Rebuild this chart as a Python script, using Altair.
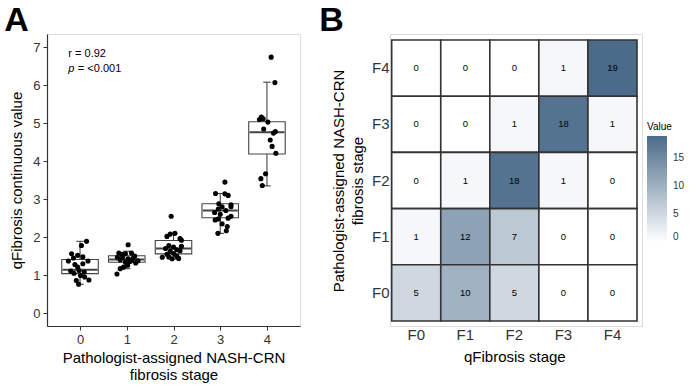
import altair as alt
import pandas as pd

# ---------------- Panel A data ----------------
stage_labels = [0, 1, 2, 3, 4]

s0_off = [0.14, 0.03, -0.18, -0.05, 0.06, -0.25, -0.14, 0.06, 0.17, -0.11, -0.05, -0.02, -0.20, 0.09, -0.13, 0.01, 0.10, 0.19, -0.08, -0.03]
s0_val = [1.89, 1.78, 1.56, 1.52, 1.48, 1.37, 1.45, 1.30, 1.37, 1.28, 1.21, 1.12, 1.11, 1.08, 1.05, 0.99, 0.95, 0.87, 0.86, 0.76]
s1_off = [0.03, -0.17, -0.10, -0.03, 0.10, 0.17, -0.20, -0.09, 0.03, 0.14, 0.24, -0.14, -0.03, 0.07, 0.19, -0.07, 0.02, -0.14, -0.21, 0.11]
s1_val = [1.80, 1.58, 1.55, 1.56, 1.58, 1.50, 1.47, 1.46, 1.43, 1.45, 1.38, 1.40, 1.34, 1.36, 1.32, 1.21, 1.26, 1.17, 1.03, 1.40]
s2_off = [-0.05, 0.03, -0.07, -0.14, 0.14, 0.17, -0.10, 0.00, 0.17, -0.17, 0.07, -0.07, 0.14, -0.14, 0.00, -0.24, -0.10, 0.07, -0.03, 0.11]
s2_val = [2.55, 2.10, 2.08, 2.02, 1.96, 1.92, 1.78, 1.74, 1.76, 1.70, 1.67, 1.63, 1.64, 1.55, 1.57, 1.47, 1.48, 1.50, 1.43, 1.44]
s3_off = [0.10, -0.10, 0.10, 0.17, -0.03, 0.23, 0.04, 0.23, -0.04, 0.12, -0.12, 0.00, 0.23, 0.17, -0.04, -0.11, 0.15, 0.04, 0.13, -0.05]
s3_val = [3.45, 3.15, 3.14, 3.10, 2.88, 2.85, 2.80, 2.80, 2.74, 2.70, 2.65, 2.60, 2.55, 2.50, 2.48, 2.45, 2.28, 2.35, 2.17, 2.10]
s4_off = [0.09, 0.17, -0.12, -0.08, 0.02, -0.07, 0.18, 0.14, 0.07, 0.11, 0.19, -0.03, -0.13, -0.10, -0.16]
s4_val = [6.74, 6.07, 5.16, 5.12, 5.03, 4.85, 4.78, 4.74, 4.56, 4.39, 4.21, 3.67, 3.54, 3.36, 5.10]

box_q1 = [1.04, 1.34, 1.56, 2.51, 4.19]
box_med = [1.14, 1.41, 1.70, 2.70, 4.76]
box_q3 = [1.41, 1.51, 1.91, 2.88, 5.04]
box_wlo = [0.76, 1.17, 1.42, 2.10, 3.35]
box_whi = [1.89, 1.63, 2.10, 3.15, 6.08]

annot_r = "r = 0.92"
annot_p = "= <0.001"

# ---------------- Panel B data ----------------
q_stages = ["F0", "F1", "F2", "F3", "F4"]
path_stages = ["F4", "F3", "F2", "F1", "F0"]
counts = {
    "F4": [0, 0, 0, 1, 19],
    "F3": [0, 0, 1, 18, 1],
    "F2": [0, 1, 18, 1, 0],
    "F1": [1, 12, 7, 0, 0],
    "F0": [5, 10, 5, 0, 0],
}
panel_labels = ["A", "B"]

FONT = "Liberation Sans"

# ---------------- build tables ----------------
rows = []
for st, offs, vals in zip(stage_labels, [s0_off, s1_off, s2_off, s3_off, s4_off],
                          [s0_val, s1_val, s2_val, s3_val, s4_val]):
    for o, v in zip(offs, vals):
        rows.append({"stage": st, "jx": st + o, "value": v})
pts = pd.DataFrame(rows)
boxes = pd.DataFrame({"stage": stage_labels, "q1": box_q1, "med": box_med, "q3": box_q3,
                      "wlo": box_wlo, "whi": box_whi})

W_L = 253
H = 292
unit = W_L / 5.2
BOXW = 0.75 * unit

xs = alt.Scale(domain=[-0.6, 4.6], nice=False, zero=False)
ys = alt.Scale(domain=[-0.34, 7.35], nice=False, zero=False)

x_axis = alt.Axis(values=stage_labels, title=["Pathologist-assigned NASH-CRN", "fibrosis stage"],
                  labelFontSize=13, titleFontSize=15, titleFontWeight="normal", labelColor="#333333",
                  titleColor="#000000", domainColor="#333333", tickColor="#333333", tickSize=4,
                  labelPadding=3, titlePadding=4, grid=False, labelFont=FONT, titleFont=FONT,
                  domainWidth=1.2, tickWidth=1)
y_axis = alt.Axis(values=list(range(8)), title="qFibrosis continuous value", labelFontSize=13,
                  titleFontSize=15, titleFontWeight="normal", labelColor="#333333", titleColor="#000000",
                  domainColor="#333333", tickColor="#333333", tickSize=4, labelPadding=3, titlePadding=8,
                  grid=False, labelFont=FONT, titleFont=FONT, domainWidth=1.2, tickWidth=1)

base_b = alt.Chart(boxes)
whisk_up = base_b.mark_rule(color="#444444", strokeWidth=1.1).encode(
    x=alt.X("stage:Q", scale=xs, axis=x_axis), y=alt.Y("q3:Q", scale=ys, axis=y_axis), y2="whi:Q")
whisk_dn = base_b.mark_rule(color="#444444", strokeWidth=1.1).encode(
    x=alt.X("stage:Q", scale=xs), y=alt.Y("wlo:Q", scale=ys), y2="q1:Q")
cap_hi = base_b.transform_calculate(a="datum.stage - 0.08", b="datum.stage + 0.08").mark_rule(
    color="#444444", strokeWidth=1.1).encode(x=alt.X("a:Q", scale=xs), x2="b:Q", y=alt.Y("whi:Q", scale=ys))
cap_lo = base_b.transform_calculate(a="datum.stage - 0.08", b="datum.stage + 0.08").mark_rule(
    color="#444444", strokeWidth=1.1).encode(x=alt.X("a:Q", scale=xs), x2="b:Q", y=alt.Y("wlo:Q", scale=ys))
box = base_b.mark_bar(size=BOXW, fill="white", stroke="#444444", strokeWidth=1.1, opacity=1).encode(
    x=alt.X("stage:Q", scale=xs), y=alt.Y("q1:Q", scale=ys), y2="q3:Q")
med = base_b.transform_calculate(a="datum.stage - 0.375", b="datum.stage + 0.375").mark_rule(
    color="#444444", strokeWidth=2).encode(x=alt.X("a:Q", scale=xs), x2="b:Q", y=alt.Y("med:Q", scale=ys))
dots = alt.Chart(pts).mark_circle(size=26, color="black", opacity=1).encode(
    x=alt.X("jx:Q", scale=xs), y=alt.Y("value:Q", scale=ys))

ann = pd.DataFrame({"x": [-0.25], "y1": [6.83], "y2": [6.44], "r": [annot_r], "p": ["p"], "pv": [annot_p]})
ann_r = alt.Chart(ann).mark_text(align="left", baseline="middle", fontSize=11, font=FONT, color="black").encode(
    x=alt.X("x:Q", scale=xs), y=alt.Y("y1:Q", scale=ys), text="r:N")
ann_p = alt.Chart(ann).mark_text(align="left", baseline="middle", fontSize=11, font=FONT, fontStyle="italic",
                                 color="black").encode(
    x=alt.X("x:Q", scale=xs), y=alt.Y("y2:Q", scale=ys), text="p:N")
ann_pv = alt.Chart(ann).mark_text(align="left", baseline="middle", fontSize=11, font=FONT, dx=9.5,
                                  color="black").encode(
    x=alt.X("x:Q", scale=xs), y=alt.Y("y2:Q", scale=ys), text="pv:N")

lab_a = alt.Chart(pd.DataFrame({"t": [panel_labels[0]]})).mark_text(
    align="left", baseline="alphabetic", fontSize=34, fontWeight="bold", font=FONT, color="black").encode(
    x=alt.value(-42.7), y=alt.value(-3.3), text="t:N")

left = alt.layer(whisk_up, whisk_dn, cap_hi, cap_lo, box, med, dots, ann_r, ann_p, ann_pv, lab_a).properties(
    width=W_L, height=H)

# ---------------- Panel B ----------------
hrows = []
for ps in path_stages:
    for qs, c in zip(q_stages, counts[ps]):
        hrows.append({"q": qs, "path": ps, "n": c})
heat = pd.DataFrame(hrows)

W_R = 252
hx = alt.Scale(domain=q_stages, range=[1.7, 247], paddingInner=0, paddingOuter=0)
hy = alt.Scale(domain=path_stages, range=[6, 287], paddingInner=0, paddingOuter=0)
col = alt.Scale(domain=[0, 19], range=["#ffffff", "#4a6b8a"], interpolate="rgb")

hx_axis = alt.Axis(title="qFibrosis stage", labelFontSize=15, titleFontSize=15, titleFontWeight="normal",
                   labelColor="#333333", titleColor="#000000", domain=False, ticks=False, labelAngle=0,
                   labelPadding=1, titlePadding=7, grid=False, labelFont=FONT, titleFont=FONT)
hy_axis = alt.Axis(title=["Pathologist-assigned NASH-CRN", "fibrosis stage"], labelFontSize=15,
                   titleFontSize=15, titleFontWeight="normal", labelColor="#333333", titleColor="#000000",
                   domain=False, ticks=False, labelPadding=1, titlePadding=6, titleLineHeight=19, grid=False,
                   labelFont=FONT, titleFont=FONT)

tiles = alt.Chart(heat).mark_rect(stroke="#333333", strokeWidth=1.6, opacity=1).encode(
    x=alt.X("q:N", scale=hx, axis=hx_axis, sort=q_stages),
    y=alt.Y("path:N", scale=hy, axis=hy_axis, sort=path_stages),
    color=alt.Color("n:Q", scale=col, legend=alt.Legend(
        title="Value", orient="none", legendX=600, legendY=88, gradientLength=106, gradientThickness=20,
        values=[0, 5, 10, 15], titleFontSize=10, labelFontSize=10, titleFontWeight="normal",
        titleColor="#000000", labelColor="#333333", gradientStrokeWidth=0, titleFont=FONT, labelFont=FONT,
        titlePadding=4, labelOffset=6)))
nums = alt.Chart(heat).mark_text(fontSize=9.5, font=FONT, color="black").encode(
    x=alt.X("q:N", scale=hx, sort=q_stages), y=alt.Y("path:N", scale=hy, sort=path_stages), text="n:Q")
lab_b = alt.Chart(pd.DataFrame({"t": [panel_labels[1]]})).mark_text(
    align="left", baseline="alphabetic", fontSize=34, fontWeight="bold", font=FONT, color="black").encode(
    x=alt.value(-70.7), y=alt.value(-3.3), text="t:N")

right = alt.layer(tiles, nums, lab_b).properties(width=W_R, height=H)

chart = alt.hconcat(left, right, spacing=17).properties(
    padding={"left": 3, "top": 3, "right": 0, "bottom": 0}
).configure_view(stroke=None).configure(font=FONT)

chart.save("out.html", embed_options={"renderer": "svg", "actions": False})
